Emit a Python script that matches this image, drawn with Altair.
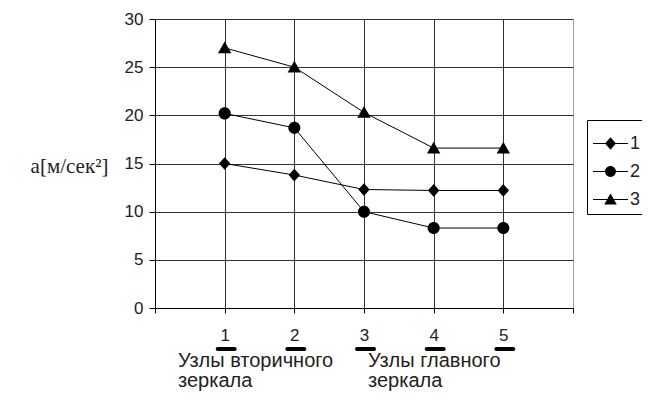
import altair as alt
import pandas as pd

# ---- data ----
nodes = [1, 2, 3, 4, 5]
series_names = ["1", "2", "3"]
s1 = [15.0, 13.8, 12.3, 12.2, 12.2]   # diamonds
s2 = [20.2, 18.7, 10.0, 8.3, 8.3]     # circles
s3 = [27.0, 25.0, 20.3, 16.6, 16.6]   # triangles
y_ticks = [0, 5, 10, 15, 20, 25, 30]
caption_left = ["Узлы вторичного", "зеркала"]
caption_right = ["Узлы главного", "зеркала"]
y_title = "a[м/сек²]"

rows = []
for name, vals in zip(series_names, [s1, s2, s3]):
    for n, v in zip(nodes, vals):
        rows.append({"n": n, "a": v, "s": name})
df = pd.DataFrame(rows)

W, H = 418, 289
SANS = "Liberation Sans, Arial, sans-serif"
SERIF = "Liberation Serif, Times New Roman, serif"

marker_paths = [
    "M0,-0.95L0.85,0L0,0.95L-0.85,0Z",
    "M0.9,0A0.9,0.9,0,1,1,-0.9,0A0.9,0.9,0,1,1,0.9,0Z",
    "M0,-0.95L1.0,0.8L-1.0,0.8Z",
]
# legend symbols: thin filled bar (the line) + marker, all fill-only
LINE = "M-1,-0.035H1V0.035H-1Z"
legend_paths = [
    LINE + "M0,-0.36L0.31,0L0,0.36L-0.31,0Z",
    LINE + "M0.31,0A0.31,0.31,0,1,1,-0.31,0A0.31,0.31,0,1,1,0.31,0Z",
    LINE + "M0,-0.34L0.36,0.28L-0.36,0.28Z",
]

x_scale = alt.Scale(domain=[0, 6], nice=False, zero=False)
y_scale = alt.Scale(domain=[0, 30], nice=False)

x_axis = alt.Axis(
    values=[0, 1, 2, 3, 4, 5, 6],
    format="d",
    labelExpr="datum.value >= 1 && datum.value <= 5 ? datum.label : ''",
    grid=True,
    gridColor={"condition": {"test": "datum.value == 6", "value": "#a0a0a0"}, "value": "#333333"},
    gridWidth=1,
    domainColor="#000000",
    tickColor="#000000",
    tickSize=5,
    labelFont=SANS,
    labelFontSize=17,
    labelColor="#222222",
    labelPadding=14,
    labelBaseline="top",
    title=None,
)
y_axis = alt.Axis(
    values=y_ticks,
    grid=True,
    gridColor="#333333",
    gridWidth=1,
    domainColor="#000000",
    tickColor="#000000",
    tickSize=6,
    labelFont=SANS,
    labelFontSize=17,
    labelColor="#222222",
    labelPadding=6,
    title=y_title,
    titleAngle=0,
    titleFont=SERIF,
    titleFontSize=21,
    titleFontWeight="normal",
    titleColor="#222222",
    titleX=-86,
    titleY=147,
    titleAlign="center",
    titleBaseline="middle",
)

base = alt.Chart(df)

lines = base.mark_line(color="black", strokeWidth=1).encode(
    x=alt.X("n:Q", scale=x_scale, axis=x_axis),
    y=alt.Y("a:Q", scale=y_scale, axis=y_axis),
    detail="s:N",
)

points = base.mark_point(filled=True, color="black", opacity=1, size=180).encode(
    x=alt.X("n:Q", scale=x_scale),
    y=alt.Y("a:Q", scale=y_scale),
    shape=alt.Shape("s:N", scale=alt.Scale(domain=series_names, range=marker_paths), legend=None),
)

legend_layer = base.transform_calculate(leg="datum.s").mark_point(
    filled=True, color="black", opacity=0, size=1225
).encode(
    x=alt.X("n:Q", scale=x_scale),
    y=alt.Y("a:Q", scale=y_scale),
    shape=alt.Shape(
        "leg:N",
        scale=alt.Scale(domain=series_names, range=legend_paths),
        legend=alt.Legend(
            title=None,
            orient="none",
            legendX=432,
            legendY=101,
            symbolOpacity=1,
            symbolFillColor="black",
            symbolSize=1225,
            labelFont=SANS,
            labelFontSize=18,
            labelColor="#222222",
            labelOffset=1,
            strokeColor="black",
            fillColor="white",
            padding=5,
            rowPadding=-12,
        ),
    ),
)

underlines = alt.Chart(pd.DataFrame({"n": nodes})).mark_rule(
    color="black", strokeWidth=4, strokeCap="round", xOffset=-7, x2Offset=10
).encode(
    x=alt.X("n:Q", scale=x_scale),
    x2="n:Q",
    y=alt.value(H + 41),
)

one = pd.DataFrame({"k": [0]})
cap_l = alt.Chart(one).mark_text(
    align="left", baseline="middle", font=SANS, fontSize=20, lineHeight=20, color="#222222"
).encode(x=alt.value(23), y=alt.value(H + 53), text=alt.value(caption_left))
cap_r = alt.Chart(one).mark_text(
    align="left", baseline="middle", font=SANS, fontSize=20, lineHeight=20, color="#222222"
).encode(x=alt.value(213), y=alt.value(H + 53), text=alt.value(caption_right))

chart = (
    alt.layer(lines, points, legend_layer, underlines, cap_l, cap_r)
    .resolve_scale(shape="independent")
    .properties(
        width=W,
        height=H,
        autosize=alt.AutoSizeParams(type="none"),
        padding={"left": 147, "top": 11, "right": 69, "bottom": 84},
        background="white",
    )
    .configure_view(stroke=None)
)

chart.save("out.html", embed_options={"renderer": "svg", "actions": False})
